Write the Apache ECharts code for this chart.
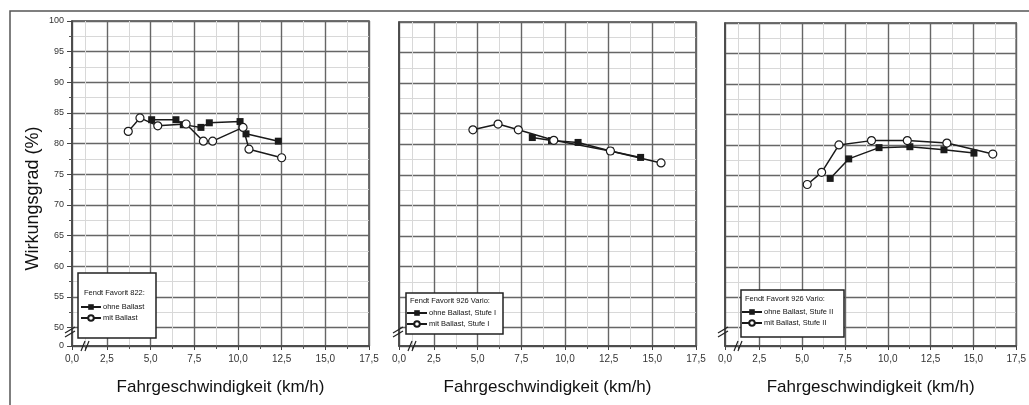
<!DOCTYPE html>
<html><head><meta charset="utf-8">
<script src="https://cdn.jsdelivr.net/npm/echarts@6/dist/echarts.min.js"></script>
<style>html,body{margin:0;padding:0;background:#fff}#c{width:1029px;height:405px}</style>
</head><body><div id="c"></div>
<script>
// ---- data ----
const xTicks = [0.5, 2.5, 5, 7.5, 10, 12.5, 15, 17.5];
const xTickLabels = ['0,0', '2,5', '5,0', '7,5', '10,0', '12,5', '15,0', '17,5'];
const xMinorTicks = [1.25, 3.75, 6.25, 8.75, 11.25, 13.75, 16.25];
const yTicks = [47, 50, 55, 60, 65, 70, 75, 80, 85, 90, 95, 100];
const yTickLabels = ['0', '50', '55', '60', '65', '70', '75', '80', '85', '90', '95', '100'];
const yMinorTicks = [52.5, 57.5, 62.5, 67.5, 72.5, 77.5, 82.5, 87.5, 92.5, 97.5];

const xTitle = 'Fahrgeschwindigkeit (km/h)';
const yTitle = 'Wirkungsgrad (%)';

const legendTitles = ['Fendt Favorit 822:', 'Fendt Favorit 926 Vario:', 'Fendt Favorit 926 Vario:'];

// Panel 1
const p1OhneName = 'ohne Ballast';
const p1OhneX = [5.06, 6.45, 6.87, 7.88, 8.36, 10.12, 10.46, 12.31];
const p1OhneY = [83.9, 83.9, 83.1, 82.65, 83.4, 83.6, 81.6, 80.4];
const p1MitName = 'mit Ballast';
const p1MitX = [3.72, 4.39, 5.41, 7.03, 8.02, 8.55, 10.29, 10.63, 12.5];
const p1MitY = [82.0, 84.2, 82.9, 83.2, 80.4, 80.4, 82.65, 79.1, 77.7];

// Panel 2
const p2OhneName = 'ohne Ballast, Stufe I';
const p2OhneX = [8.13, 9.23, 10.75, 12.6, 14.33];
const p2OhneY = [81.1, 80.6, 80.3, 78.9, 77.85];
const p2MitName = 'mit Ballast, Stufe I';
const p2MitX = [4.73, 6.17, 7.33, 9.36, 12.6, 15.5];
const p2MitY = [82.36, 83.3, 82.36, 80.65, 78.9, 76.95];

// Panel 3
const p3OhneName = 'ohne Ballast, Stufe II';
const p3OhneX = [6.64, 7.72, 9.49, 11.29, 13.28, 15.03];
const p3OhneY = [74.5, 77.7, 79.55, 79.7, 79.2, 78.65];
const p3MitName = 'mit Ballast, Stufe II';
const p3MitX = [5.3, 6.14, 7.15, 9.05, 11.14, 13.45, 16.13];
const p3MitY = [73.5, 75.5, 80.0, 80.7, 80.7, 80.3, 78.5];

// ---- layout ----
const FONT = 'Liberation Sans, Arial, sans-serif';
const grids = [
  {left: 72, right: 660, top: 21, bottom: 59},
  {left: 399, right: 333, top: 22, bottom: 59},
  {left: 725, right: 5, top: 23, bottom: 59}
];
const zip = (xs, ys) => xs.map((x, i) => [x, ys[i]]);
const panels = [
  [[p1OhneName, p1OhneX, p1OhneY], [p1MitName, p1MitX, p1MitY]],
  [[p2OhneName, p2OhneX, p2OhneY], [p2MitName, p2MitX, p2MitY]],
  [[p3OhneName, p3OhneX, p3OhneY], [p3MitName, p3MitX, p3MitY]]
];

const xAxes = [], yAxes = [], series = [], legends = [], graphics = [];
grids.forEach((g, i) => {
  g.show = true; g.borderColor = '#444'; g.borderWidth = 1.5; g.backgroundColor = '#fff';
  // minor x
  xAxes.push({type: 'value', gridIndex: i, position: 'bottom', offset: 0, min: 0.5, max: 17.5,
    axisLine: {show: false}, axisLabel: {show: false},
    axisTick: {show: true, customValues: xMinorTicks, length: 3, inside: false, lineStyle: {color: '#555'}},
    splitLine: {show: true, lineStyle: {color: '#d8d8d8', width: 1}}});
  // major x
  xAxes.push({type: 'value', gridIndex: i, position: 'bottom', offset: 0, min: 0.5, max: 17.5,
    name: xTitle, nameLocation: 'middle', nameGap: 33,
    nameTextStyle: {fontFamily: FONT, fontSize: 17, color: '#111'},
    axisLine: {show: true, onZero: false, lineStyle: {color: '#444', width: 1.5}},
    axisTick: {show: true, customValues: xTicks, length: 4, lineStyle: {color: '#444'}},
    axisLabel: {show: true, customValues: xTicks, margin: 8, fontFamily: FONT, fontSize: 10, color: '#333',
      formatter: v => { const k = xTicks.findIndex(t => Math.abs(t - v) < 1e-6); return k >= 0 ? xTickLabels[k] : ''; }},
    splitLine: {show: true, lineStyle: {color: '#666', width: 1.4}}});
  // minor y
  yAxes.push({type: 'value', gridIndex: i, position: 'left', offset: 0, min: 47, max: 100,
    axisLine: {show: false}, axisLabel: {show: false},
    axisTick: {show: i === 0, customValues: yMinorTicks, length: 3, lineStyle: {color: '#555'}},
    splitLine: {show: true, lineStyle: {color: '#d8d8d8', width: 1}}});
  // major y
  yAxes.push({type: 'value', gridIndex: i, position: 'left', offset: 0, min: 47, max: 100,
    name: i === 0 ? yTitle : '', nameLocation: 'middle', nameGap: 30,
    nameTextStyle: {fontFamily: FONT, fontSize: 18, color: '#111', padding: [0, 30, 0, 0]},
    axisLine: {show: true, onZero: false, lineStyle: {color: '#444', width: 1.5}},
    axisTick: {show: i === 0, customValues: yTicks, length: 5, lineStyle: {color: '#444'}},
    axisLabel: {show: i === 0, customValues: yTicks, margin: 8, fontFamily: FONT, fontSize: 9, color: '#333',
      formatter: v => { const k = yTicks.findIndex(t => Math.abs(t - v) < 1e-6); return k >= 0 ? yTickLabels[k] : ''; }},
    splitLine: {show: true, lineStyle: {color: '#666', width: 1.4}}});

  panels[i].forEach(([name, xs, ys], j) => {
    series.push({
      type: 'line', name, xAxisIndex: 2 * i + 1, yAxisIndex: 2 * i + 1,
      data: zip(xs, ys), z: 3 + j,
      symbol: j === 0 ? 'rect' : 'circle', symbolSize: j === 0 ? 7 : 8,
      showSymbol: true,
      lineStyle: {color: '#1a1a1a', width: 1.5},
      itemStyle: j === 0 ? {color: '#1a1a1a'} : {color: '#fff', borderColor: '#1a1a1a', borderWidth: 1.2},
      animation: false
    });
  });
});

// legend boxes
const legendBoxes = [
  {x: 78, y: 273, w: 78, h: 65, tx: 84, ty: 293, ly: 303},
  {x: 406, y: 293, w: 97, h: 41, tx: 410, ty: 301, ly: 309},
  {x: 741, y: 290, w: 103, h: 47, tx: 745, ty: 299, ly: 308}
];
legendBoxes.forEach((b, i) => {
  graphics.push({type: 'rect', shape: {x: b.x, y: b.y, width: b.w, height: b.h},
    style: {fill: '#fff', stroke: '#222', lineWidth: 1.5}, z: 10});
  graphics.push({type: 'text', x: b.tx, y: b.ty, z: 11,
    style: {text: legendTitles[i], font: '7.5px ' + FONT, fill: '#111', textVerticalAlign: 'middle'}});
  legends.push({data: panels[i].map(p => p[0]), orient: 'vertical', left: b.tx - 4, top: b.ly,
    itemWidth: 20, itemHeight: 7, itemGap: 3, z: 12, padding: 0, selectedMode: false,
    textStyle: {fontFamily: FONT, fontSize: 7.5, color: '#111', padding: [0, 0, 0, -3]}});
});

// axis break marks
const breaks = [
  [65, 333, 75, 327, 65, 337, 75, 331],
  [393, 333, 403, 327, 393, 337, 403, 331],
  [718, 333, 728, 327, 718, 337, 728, 331]
];
breaks.forEach(b => {
  graphics.push({type: 'line', shape: {x1: b[0], y1: b[1], x2: b[2], y2: b[3]}, style: {stroke: '#222', lineWidth: 1.2}, z: 12});
  graphics.push({type: 'line', shape: {x1: b[4], y1: b[5], x2: b[6], y2: b[7]}, style: {stroke: '#222', lineWidth: 1.2}, z: 12});
});
const xbreaks = [81, 408, 734];
xbreaks.forEach(x => {
  graphics.push({type: 'line', shape: {x1: x, y1: 351, x2: x + 4, y2: 341}, style: {stroke: '#222', lineWidth: 1.2}, z: 12});
  graphics.push({type: 'line', shape: {x1: x + 4, y1: 351, x2: x + 8, y2: 341}, style: {stroke: '#222', lineWidth: 1.2}, z: 12});
});
// outer frame
graphics.push({type: 'polyline', shape: {points: [[10, 405], [10, 11], [1029, 11]]}, style: {stroke: '#555', lineWidth: 1.5, fill: null}, z: 1});

const chart = echarts.init(document.getElementById('c'), null, {renderer: 'canvas'});
chart.setOption({
  backgroundColor: '#fff',
  animation: false,
  grid: grids, xAxis: xAxes, yAxis: yAxes, series, legend: legends, graphic: graphics
});
</script></body></html>
